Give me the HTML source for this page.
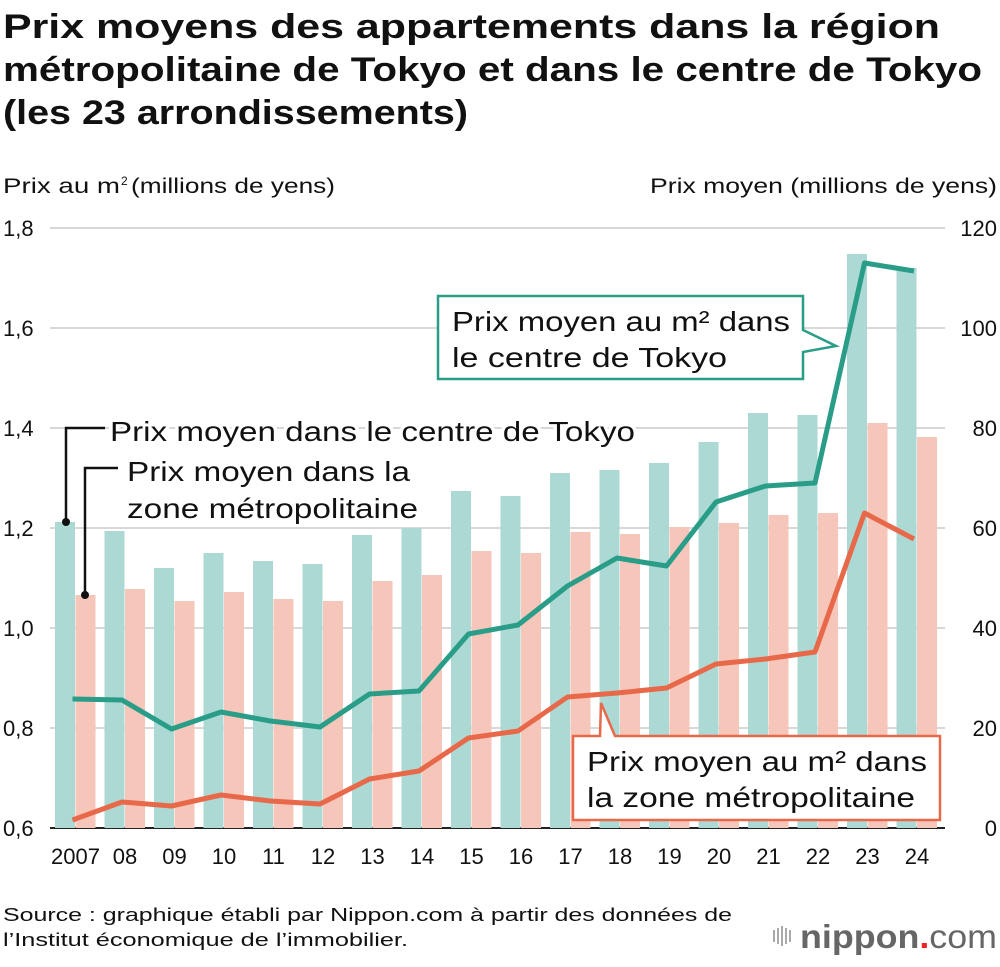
<!DOCTYPE html>
<html><head><meta charset="utf-8"><style>
body{margin:0;background:#fff;font-family:"Liberation Sans",Arial,sans-serif}
</style></head><body>
<svg id="s" width="1000" height="962" xmlns="http://www.w3.org/2000/svg" font-family="Liberation Sans, Arial, sans-serif">
<text x="3" y="38" font-size="34" font-weight="bold" fill="#111" textLength="937" lengthAdjust="spacingAndGlyphs">Prix moyens des appartements dans la région</text>
<text x="3" y="81" font-size="34" font-weight="bold" fill="#111" textLength="979" lengthAdjust="spacingAndGlyphs">métropolitaine de Tokyo et dans le centre de Tokyo</text>
<text x="3" y="124" font-size="34" font-weight="bold" fill="#111" textLength="465" lengthAdjust="spacingAndGlyphs">(les 23 arrondissements)</text>
<text x="3" y="193" font-size="21" fill="#111" textLength="117" lengthAdjust="spacingAndGlyphs">Prix au m</text>
<text x="121" y="185" font-size="12" fill="#111">2</text>
<text x="131" y="193" font-size="21" fill="#111" textLength="204" lengthAdjust="spacingAndGlyphs">(millions de yens)</text>
<text x="997" y="193" font-size="21" fill="#111" text-anchor="end" textLength="347" lengthAdjust="spacingAndGlyphs">Prix moyen (millions de yens)</text>
<g id="grid"></g><g id="bars"></g><g id="lines"></g><g id="labels"></g>
<text x="3" y="921" font-size="18" fill="#111" textLength="729" lengthAdjust="spacingAndGlyphs">Source : graphique établi par Nippon.com à partir des données de</text>
<text x="3" y="946" font-size="18" fill="#111" textLength="405" lengthAdjust="spacingAndGlyphs">l’Institut économique de l’immobilier.</text>
<g fill="#aaa"><rect x="773" y="930" width="2" height="12"/><rect x="777" y="928" width="2" height="16"/><rect x="781" y="926" width="2" height="20"/><rect x="785" y="928" width="2" height="16"/><rect x="789" y="930" width="2" height="12"/></g>
<text x="800" y="948" font-size="33" fill="#666" font-weight="bold" textLength="197" lengthAdjust="spacingAndGlyphs">nippon<tspan fill="#e22">.</tspan><tspan font-weight="normal">com</tspan></text>
</svg>
<script>
var NS="http://www.w3.org/2000/svg";
function el(p,t,a,txt){var e=document.createElementNS(NS,t);for(var k in a)e.setAttribute(k,a[k]);if(txt)e.textContent=txt;document.getElementById(p).appendChild(e);return e;}
var L=["1,8","1,6","1,4","1,2","1,0","0,8","0,6"],R=["120","100","80","60","40","20","0"];
for(var i=0;i<7;i++){var y=228+i*100;el("grid","line",{x1:50,x2:945,y1:y,y2:y,stroke:i==6?"#222":"#ccc","stroke-width":i==6?2:1.5});
el("labels","text",{x:3,y:y+8,"font-size":22,fill:"#111"},L[i]);el("labels","text",{x:997,y:y+8,"font-size":22,fill:"#111","text-anchor":"end"},R[i]);}
var tb=[522,531,568,553,561,564,535,528,491,496,473,470,463,442,413,415,254,268];
var pb=[595,589,601,592,599,601,581,575,551,553,532,534,527,523,515,513,423,437];
var tl=[699,700,729,712,721,727,694,691,634,625,586,558,566,502,486,483,263,271];
var ol=[820,802,806,795,801,804,779,771,738,731,697,693,688,664,659,652,513,539];
var yrs=["2007","08","09","10","11","12","13","14","15","16","17","18","19","20","21","22","23","24"];
var pt="",po="";
for(var i=0;i<18;i++){var c=75.5+i*49.5;
el("bars","rect",{x:c-20.5,y:tb[i],width:20,height:828-tb[i],fill:"#acd9d3"});
el("bars","rect",{x:c,y:pb[i],width:20,height:828-pb[i],fill:"#f6c6ba"});
pt+=(c-3)+","+tl[i]+" ";po+=(c-3)+","+ol[i]+" ";
el("labels","text",{x:c,y:864,"font-size":22,fill:"#111","text-anchor":"middle"},yrs[i]);}
el("lines","polyline",{points:pt,fill:"none",stroke:"#2a9d88","stroke-width":5,"stroke-linejoin":"round"});
el("lines","polyline",{points:po,fill:"none",stroke:"#e8694a","stroke-width":5,"stroke-linejoin":"round"});
el("lines","polyline",{points:"105,428 66,428 66,522",fill:"none",stroke:"#111","stroke-width":2.5});
el("lines","circle",{cx:66,cy:522,r:4,fill:"#111"});
el("lines","polyline",{points:"118,468 85,468 85,595",fill:"none",stroke:"#111","stroke-width":2.5});
el("lines","circle",{cx:85,cy:595,r:4,fill:"#111"});
function T(x,y,s,w,h){if(h)el("labels","text",{x:x,y:y,"font-size":28,fill:"#fff",stroke:"#fff","stroke-width":6,"stroke-linejoin":"round",textLength:w,lengthAdjust:"spacingAndGlyphs"},s);el("labels","text",{x:x,y:y,"font-size":28,fill:"#111",textLength:w,lengthAdjust:"spacingAndGlyphs"},s);}
T(110,441,"Prix moyen dans le centre de Tokyo",525,1);
T(127,481,"Prix moyen dans la",283,1);
T(127,518,"zone métropolitaine",291,1);
el("labels","path",{d:"M438,296 H803 V330 L836,346 L803,352 V379 H438 Z",fill:"#fff",stroke:"#2a9d88","stroke-width":2.5});
T(452,331,"Prix moyen au m² dans",338);
T(452,367,"le centre de Tokyo",275);
el("labels","path",{d:"M573,736 H600 L601,703 L615,736 H940 V820 H573 Z",fill:"#fff",stroke:"#e8694a","stroke-width":2.5});
T(587,771,"Prix moyen au m² dans",340);
T(587,807,"la zone métropolitaine",328);
</script>
</body></html>
